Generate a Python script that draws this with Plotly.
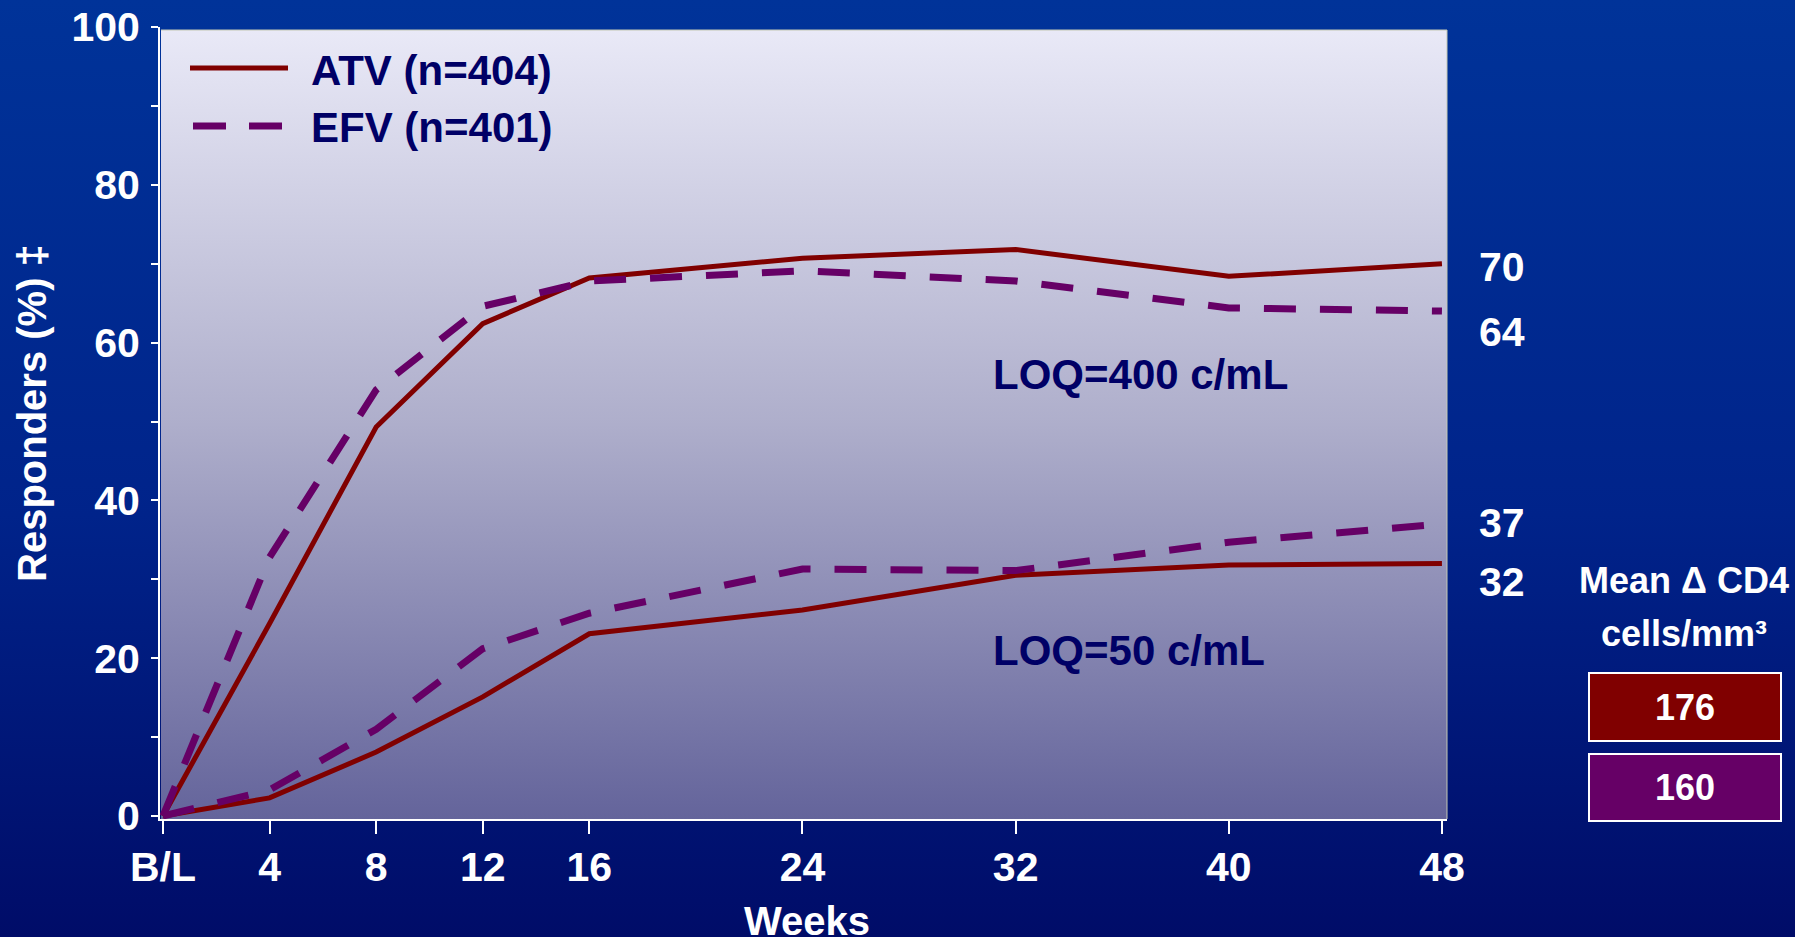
import base64
import plotly.graph_objects as go

# ---- data -------------------------------------------------------------
weeks = [0, 4, 8, 12, 16, 24, 32, 40, 48]
week_labels = ["B/L", "4", "8", "12", "16", "24", "32", "40", "48"]

# % responders, LOQ = 400 copies/mL
atv_loq400 = [0, 24.4, 49.3, 62.4, 68.2, 70.7, 71.8, 68.4, 70]
efv_loq400 = [0, 32.8, 54.0, 64.6, 67.8, 69.1, 67.8, 64.4, 64]
# % responders, LOQ = 50 copies/mL
atv_loq50 = [0, 2.3, 8.1, 15.1, 23.1, 26.1, 30.5, 31.8, 32]
efv_loq50 = [0, 3.3, 11.0, 21.2, 25.7, 31.3, 31.1, 34.7, 37]

arms = ["ATV", "EFV"]
arm_n = [404, 401]
cd4_mean_change = [176, 160]

y_ticks = list(range(0, 101, 10))
y_tick_labels = [str(v) if v % 20 == 0 else "" for v in y_ticks]

# ---- style ------------------------------------------------------------
FONT = "Liberation Sans, Arial, sans-serif"
NAVY = "#000066"
ATV_COLOR = "#800000"
EFV_COLOR = "#660066"
EFV_DASH = "32px,24px"

W, H = 1795, 937
L, R, T, B = 160, 1447, 27, 819          # plot area edges in pixels
PW, PH = R - L, B - T


def px_x(p):
    return (p - L) / PW


def px_y(p):
    return (B - p) / PH


def gradient_uri(stops):
    stop_tags = "".join(
        f'<stop offset="{o}" stop-color="{c}"/>' for o, c in stops
    )
    svg = (
        '<svg xmlns="http://www.w3.org/2000/svg" width="100" height="100" '
        'viewBox="0 0 100 100" preserveAspectRatio="none">'
        '<defs><linearGradient id="g" x1="0" y1="0" x2="0" y2="1">'
        f"{stop_tags}</linearGradient></defs>"
        '<rect x="0" y="0" width="100" height="100" fill="url(#g)"/></svg>'
    )
    return "data:image/svg+xml;base64," + base64.b64encode(svg.encode()).decode()


page_bg = gradient_uri([(0, "#003399"), (0.55, "#00238a"), (1, "#000c68")])
plot_bg = gradient_uri([(0, "#e9e9f7"), (0.5, "#aeaecb"), (1, "#64649b")])

fig = go.Figure()

series = [
    (atv_loq400, ATV_COLOR, 5, "solid"),
    (atv_loq50, ATV_COLOR, 5, "solid"),
    (efv_loq400, EFV_COLOR, 7, EFV_DASH),
    (efv_loq50, EFV_COLOR, 7, EFV_DASH),
]
for values, color, width, dash in series:
    fig.add_trace(
        go.Scatter(
            x=weeks,
            y=values,
            mode="lines",
            line=dict(color=color, width=width, dash=dash),
            hoverinfo="skip",
        )
    )

tick_font = dict(family=FONT, size=41, color="white", weight="bold")

fig.update_layout(
    width=W,
    height=H,
    autosize=False,
    margin=dict(l=L, r=W - R, t=T, b=H - B, pad=0, autoexpand=False),
    paper_bgcolor="#001a80",
    plot_bgcolor="rgba(0,0,0,0)",
    showlegend=False,
    xaxis=dict(
        range=[-0.113, 48.19],
        tickvals=weeks,
        ticktext=week_labels,
        automargin=False,
        showgrid=False,
        zeroline=False,
        showline=True,
        linecolor="white",
        linewidth=2,
        ticks="outside",
        ticklen=13,
        tickwidth=2,
        tickcolor="white",
        tickfont=tick_font,
        ticklabelstandoff=-2,
    ),
    yaxis=dict(
        range=[-0.38, 100],
        tickvals=y_ticks,
        ticktext=y_tick_labels,
        automargin=False,
        showgrid=False,
        zeroline=False,
        showline=True,
        linecolor="white",
        linewidth=2,
        ticks="outside",
        ticklen=7,
        tickwidth=2,
        tickcolor="white",
        tickfont=tick_font,
        ticklabelstandoff=3,
    ),
    images=[
        dict(
            source=page_bg, xref="paper", yref="paper",
            x=px_x(0), y=px_y(0), sizex=W / PW, sizey=H / PH,
            xanchor="left", yanchor="top", sizing="stretch", layer="below",
        ),
        dict(
            source=plot_bg, xref="paper", yref="paper",
            x=px_x(161), y=px_y(30), sizex=(R - 161) / PW, sizey=(B - 30) / PH,
            xanchor="left", yanchor="top", sizing="stretch", layer="below",
        ),
    ],
)

# thin frame on the top / right of the plotting panel
fig.add_shape(
    type="line", xref="paper", yref="paper",
    x0=px_x(161), x1=px_x(R), y0=px_y(30), y1=px_y(30),
    line=dict(color="#c4c8b4", width=1),
)
fig.add_shape(
    type="line", xref="paper", yref="paper",
    x0=px_x(R), x1=px_x(R), y0=px_y(30), y1=0,
    line=dict(color="#c4c8b4", width=1),
)

# legend
legend_rows = [
    (f"{arms[0]} (n={arm_n[0]})", ATV_COLOR, 5, "solid", 190, 68),
    (f"{arms[1]} (n={arm_n[1]})", EFV_COLOR, 7, "33px,23px", 193, 126),
]
for label, color, width, dash, x0, yc in legend_rows:
    fig.add_shape(
        type="line", xref="paper", yref="paper",
        x0=px_x(x0), x1=px_x(288), y0=px_y(yc), y1=px_y(yc),
        line=dict(color=color, width=width, dash=dash),
    )
    fig.add_annotation(
        text=label, xref="paper", yref="paper",
        x=px_x(309), y=px_y(yc + 2), xanchor="left", yanchor="middle",
        showarrow=False,
        font=dict(family=FONT, size=42, color=NAVY, weight="bold"),
    )

# threshold captions
for text, yv in [("LOQ=400 c/mL", 56.0), ("LOQ=50 c/mL", 21.0)]:
    fig.add_annotation(
        text=text, x=31.07, y=yv, xref="x", yref="y",
        xanchor="left", yanchor="middle", showarrow=False,
        font=dict(family=FONT, size=42, color=NAVY, weight="bold"),
    )

# week-48 values at the right of the panel
end_labels = [
    (atv_loq400[-1], -3),
    (efv_loq400[-1], -21),
    (efv_loq50[-1], 1),
    (atv_loq50[-1], -18),
]
for value, nudge in end_labels:
    fig.add_annotation(
        text=f"{value:g}", x=weeks[-1], y=value, xref="x", yref="y",
        xanchor="left", yanchor="middle", xshift=35, yshift=nudge,
        showarrow=False,
        font=dict(family=FONT, size=41, color="white", weight="bold"),
    )

# axis titles
fig.add_annotation(
    text="Weeks", xref="paper", yref="paper",
    x=px_x(807), y=px_y(921), xanchor="center", yanchor="middle",
    showarrow=False,
    font=dict(family=FONT, size=40, color="white", weight="bold"),
)
fig.add_annotation(
    text="Responders (%) ‡", xref="paper", yref="paper",
    x=px_x(32), y=px_y(413), xanchor="center", yanchor="middle",
    textangle=-90, showarrow=False,
    font=dict(family=FONT, size=40, color="white", weight="bold"),
)

# mean CD4 change boxes
fig.add_annotation(
    text="Mean Δ CD4", xref="paper", yref="paper",
    x=px_x(1684), y=px_y(580), xanchor="center", yanchor="middle",
    showarrow=False,
    font=dict(family=FONT, size=36, color="white", weight="bold"),
)
fig.add_annotation(
    text="cells/mm³", xref="paper", yref="paper",
    x=px_x(1684), y=px_y(633), xanchor="center", yanchor="middle",
    showarrow=False,
    font=dict(family=FONT, size=36, color="white", weight="bold"),
)
box_rows = [(cd4_mean_change[0], ATV_COLOR, 673, 741), (cd4_mean_change[1], EFV_COLOR, 754, 821)]
for value, color, top, bottom in box_rows:
    fig.add_shape(
        type="rect", xref="paper", yref="paper",
        x0=px_x(1589), x1=px_x(1781), y0=px_y(bottom), y1=px_y(top),
        fillcolor=color, line=dict(color="white", width=2),
    )
    fig.add_annotation(
        text=str(value), xref="paper", yref="paper",
        x=px_x(1685), y=px_y((top + bottom) / 2), xanchor="center", yanchor="middle",
        showarrow=False,
        font=dict(family=FONT, size=36, color="white", weight="bold"),
    )

fig.write_html("out.html")
